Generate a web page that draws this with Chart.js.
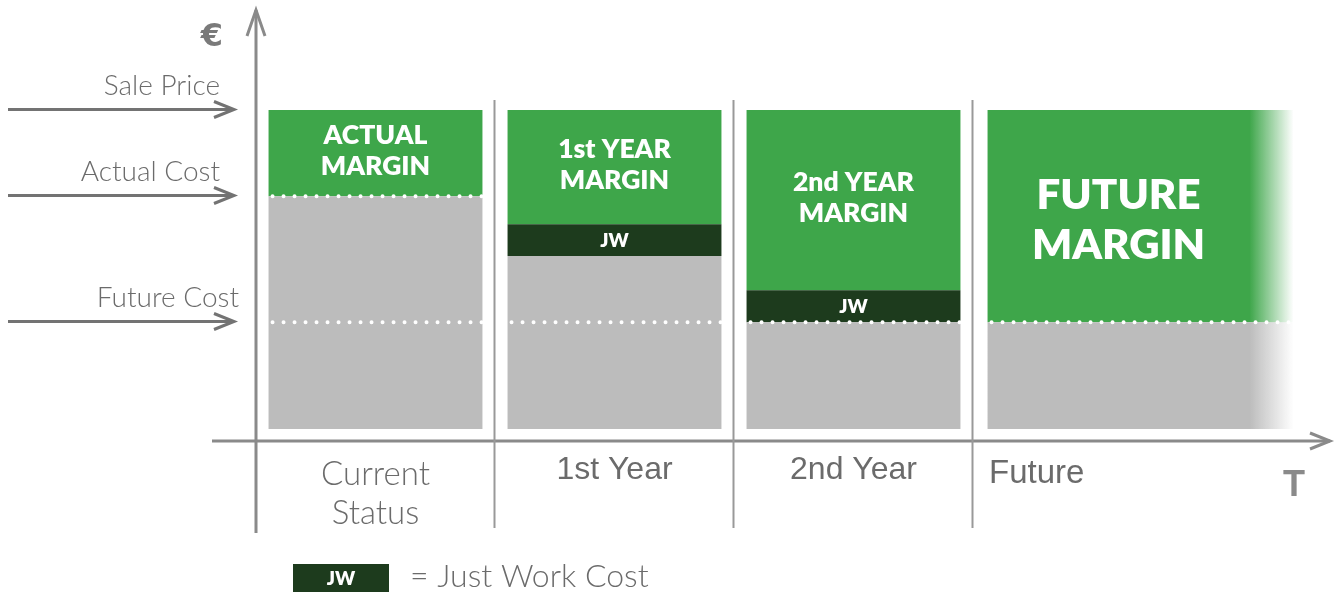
<!DOCTYPE html>
<html lang="en">
<head>
    <meta charset="UTF-8">
    <title>Margin Evolution</title>
    <script src="https://cdn.jsdelivr.net/npm/chart.js"></script>
    <style>
        body {
            margin: 0;
            padding: 0;
            background: #ffffff;
        }
        #wrap {
            width: 1338px;
            height: 592px;
        }
    </style>
</head>
<body>

<div id="wrap">
    <canvas id="marginChart" width="1338" height="592"></canvas>
</div>

<script>
    // chart data
    const categories = [['Current', 'Status'], '1st Year', '2nd Year', 'Future'];
    const costValues = [73, 54.2, 33.5, 33.5];
    const jwValues = [0, 10, 10, 0];
    const marginValues = [27, 35.8, 56.5, 66.5];
    const marginLabels = [['ACTUAL', 'MARGIN'], ['1st YEAR', 'MARGIN'], ['2nd YEAR', 'MARGIN'], ['FUTURE', 'MARGIN']];
    const jwLabel = 'JW';
    const levelNames = ['Sale Price', 'Actual Cost', 'Future Cost'];
    const levelValues = [100, 73, 33.5];
    const legendText = '= Just Work Cost';

    const GREEN = [62, 166, 74];
    const DARK = [29, 59, 29];
    const GRAY = [188, 188, 188];
    const AXIS = '#8a8a8a';
    const TEXT = '#6b6b6b';
    const LIGHT = '300 28px Lato, "Open Sans", sans-serif';

    const rgba = (c, a) => `rgba(${c[0]},${c[1]},${c[2]},${a})`;

    // last bar fades out to the right
    function barFill(c) {
        return (ctx) => {
            const solid = rgba(c, 1);
            if (ctx.dataIndex !== 3) return solid;
            const x = ctx.chart.scales.x;
            if (!x) return solid;
            const left = x.getPixelForValue(3) - 105;
            const g = ctx.chart.ctx.createLinearGradient(left + 262, 0, left + 306, 0);
            g.addColorStop(0, solid);
            g.addColorStop(1, rgba(c, 0));
            return g;
        };
    }

    function arrowHead(ctx, x, y, dir) {
        ctx.beginPath();
        if (dir === 'right') {
            ctx.moveTo(x - 20, y - 8);
            ctx.lineTo(x, y);
            ctx.lineTo(x - 20, y + 8);
        } else {
            ctx.moveTo(x - 9, y + 26);
            ctx.lineTo(x, y);
            ctx.lineTo(x + 9, y + 26);
        }
        ctx.stroke();
    }

    function dots(ctx, x1, x2, y) {
        ctx.save();
        ctx.strokeStyle = '#ffffff';
        ctx.lineWidth = 4;
        ctx.lineCap = 'round';
        ctx.setLineDash([0, 11]);
        ctx.beginPath();
        ctx.moveTo(x1 + 4, y);
        ctx.lineTo(x2, y);
        ctx.stroke();
        ctx.restore();
    }

    const decor = {
        id: 'decor',
        afterDatasetsUpdate(chart) {
            // widen the open-ended future bar
            chart.data.datasets.forEach((d, i) => {
                const el = chart.getDatasetMeta(i).data[3];
                if (!el) return;
                const left = el.x - el.width / 2 + 2;
                el.width = 306;
                el.x = left + 153;
            });
        },
        afterDatasetsDraw(chart) {
            const ctx = chart.ctx;
            const y = chart.scales.y;
            const costMeta = chart.getDatasetMeta(0);
            const jwMeta = chart.getDatasetMeta(1);
            const marginMeta = chart.getDatasetMeta(2);

            costMeta.data.forEach((el, i) => {
                const l = el.x - el.width / 2;
                const r = i === 3 ? l + 302 : el.x + el.width / 2;
                if (costValues[i] >= levelValues[1]) dots(ctx, l, r, y.getPixelForValue(levelValues[1]));
                dots(ctx, l, r, y.getPixelForValue(levelValues[2]));
            });

            ctx.save();
            ctx.fillStyle = '#ffffff';
            ctx.textAlign = 'center';
            ctx.textBaseline = 'middle';
            marginMeta.data.forEach((el, i) => {
                const l = el.x - el.width / 2;
                const big = i === 3;
                const cx = big ? l + 131 : el.x;
                const lh = big ? 50 : 31;
                ctx.font = (big ? '800 42px' : '800 26.5px') + ' Lato, "Open Sans", sans-serif';
                const cy = (el.y + el.base) / 2 + (big ? 4 : -2);
                marginLabels[i].forEach((t, k) => {
                    ctx.fillText(t, cx, cy + (k - (marginLabels[i].length - 1) / 2) * lh);
                });
            });
            ctx.font = '800 19px Lato, "Open Sans", sans-serif';
            jwMeta.data.forEach((el, i) => {
                if (!jwValues[i]) return;
                ctx.fillText(jwLabel, el.x, (el.y + el.base) / 2 + 1);
            });
            ctx.restore();
        },
        afterDraw(chart) {
            const ctx = chart.ctx;
            const x = chart.scales.x;
            const y = chart.scales.y;
            const area = chart.chartArea;
            const axisY = area.bottom;
            const axisX = area.left;
            const band = (x.getPixelForValue(1) - x.getPixelForValue(0));

            ctx.save();
            ctx.strokeStyle = AXIS;
            ctx.lineWidth = 3;
            ctx.lineCap = 'butt';

            // y axis
            ctx.beginPath();
            ctx.moveTo(axisX, area.top);
            ctx.lineTo(axisX, 533);
            ctx.stroke();
            arrowHead(ctx, axisX, area.top, 'up');

            // x axis
            ctx.beginPath();
            ctx.moveTo(212, axisY);
            ctx.lineTo(1330, axisY);
            ctx.stroke();
            arrowHead(ctx, 1330, axisY, 'right');

            // separators
            ctx.lineWidth = 2;
            ctx.strokeStyle = '#999999';
            for (let i = 1; i < categories.length; i++) {
                const sx = Math.round(x.getPixelForValue(i) - band / 2) - 0.5;
                ctx.beginPath();
                ctx.moveTo(sx, 100);
                ctx.lineTo(sx, 528);
                ctx.stroke();
            }

            // level arrows on the left
            ctx.strokeStyle = '#737373';
            ctx.lineWidth = 3;
            ctx.fillStyle = TEXT;
            ctx.font = LIGHT;
            ctx.textAlign = 'right';
            ctx.textBaseline = 'alphabetic';
            const labelRight = [220, 220, 239];
            levelValues.forEach((v, i) => {
                const py = Math.round(y.getPixelForValue(v)) - 0.5;
                ctx.beginPath();
                ctx.moveTo(8, py);
                ctx.lineTo(234, py);
                ctx.stroke();
                arrowHead(ctx, 234, py, 'right');
                ctx.fillText(levelNames[i], labelRight[i], py - 15);
            });

            // axis symbols
            ctx.fillStyle = '#7a7a7a';
            ctx.font = 'bold 32px "DejaVu Sans", sans-serif';
            ctx.textAlign = 'center';
            ctx.fillText('€', 212, 46);
            ctx.fillStyle = '#8a8a8a';
            ctx.font = 'bold 36px "Liberation Sans", sans-serif';
            ctx.fillText('T', 1294, 496);

            // category labels
            ctx.fillStyle = TEXT;
            ctx.textBaseline = 'middle';
            categories.forEach((c, i) => {
                const cx = x.getPixelForValue(i);
                if (Array.isArray(c)) {
                    ctx.font = '300 33px Lato, "Open Sans", sans-serif';
                    ctx.textAlign = 'center';
                    c.forEach((t, k) => ctx.fillText(t, cx, 474 + k * 39));
                } else if (i === categories.length - 1) {
                    ctx.font = '33px "Liberation Sans", sans-serif';
                    ctx.textAlign = 'left';
                    ctx.fillText(c, cx - band / 2 + 16, 474);
                } else {
                    ctx.font = '32px "Liberation Sans", sans-serif';
                    ctx.textAlign = 'center';
                    ctx.fillText(c, cx, 470);
                }
            });

            // legend
            ctx.fillStyle = rgba(DARK, 1);
            ctx.fillRect(293, 564, 96, 28);
            ctx.fillStyle = '#ffffff';
            ctx.font = '800 19px Lato, "Open Sans", sans-serif';
            ctx.textAlign = 'center';
            ctx.fillText(jwLabel, 341, 579);
            ctx.fillStyle = TEXT;
            ctx.font = '300 32px Lato, "Open Sans", sans-serif';
            ctx.textAlign = 'left';
            ctx.fillText(legendText, 410, 577);
            ctx.restore();
        }
    };

    const chartCtx = document.getElementById('marginChart').getContext('2d');
    const marginChart = new Chart(chartCtx, {
        type: 'bar',
        data: {
            labels: categories,
            datasets: [
                { label: 'Cost', data: costValues, backgroundColor: barFill(GRAY), clip: false },
                { label: 'Just Work', data: jwValues, backgroundColor: barFill(DARK), clip: false },
                { label: 'Margin', data: marginValues, backgroundColor: barFill(GREEN), clip: false }
            ]
        },
        options: {
            responsive: false,
            devicePixelRatio: 1,
            animation: false,
            layout: {
                padding: { left: 256, right: 126, top: 10, bottom: 151 }
            },
            datasets: {
                bar: {
                    categoryPercentage: 1,
                    barPercentage: 0.895,
                    borderWidth: 0
                }
            },
            scales: {
                x: { display: false, stacked: true },
                y: { display: false, stacked: true, min: -3.76, max: 131.35 }
            },
            plugins: {
                legend: { display: false },
                tooltip: { enabled: false }
            }
        },
        plugins: [decor]
    });
</script>

</body>
</html>
